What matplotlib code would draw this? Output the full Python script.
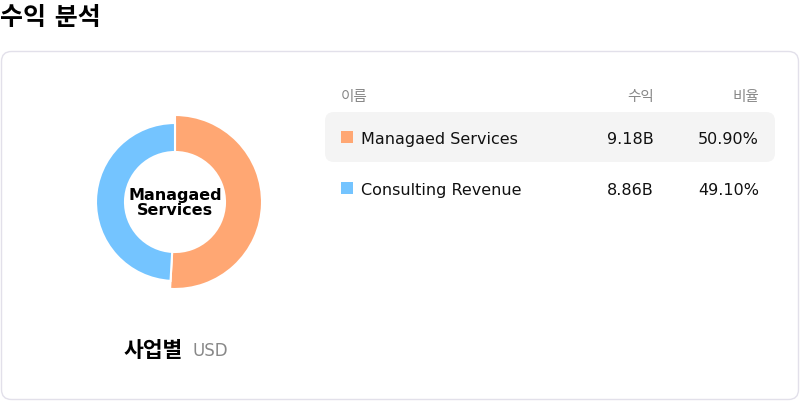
import matplotlib.pyplot as plt
from matplotlib.patches import FancyBboxPatch, Rectangle

plt.rcParams['font.family'] = ['DejaVu Sans', 'Noto Sans CJK KR']

# data
names = ['Managaed Services', 'Consulting Revenue']
revenue = [9.18, 8.86]
share = [50.90, 49.10]
colors = ['#FFA773', '#74C4FF']
title = '수익 분석'
header = ['이름', '수익', '비율']

fig = plt.figure(figsize=(8, 4.02), dpi=100)
ax = fig.add_axes([0, 0, 1, 1])
ax.set_xlim(0, 800)
ax.set_ylim(402, 0)
ax.axis('off')

# title and card
ax.text(0, 18, title, fontsize=18, fontweight='bold', va='center', ha='left')
card = FancyBboxPatch((1.5, 52.5), 797, 348, boxstyle='round,pad=0,rounding_size=10',
                      fc='white', ec='#e2e0ea', lw=1)
ax.add_patch(card)

# table
ax.text(341, 96.5, header[0], fontsize=10.5, color='#888888', va='center')
ax.text(654, 96.5, header[1], fontsize=10.5, color='#888888', va='center', ha='right')
ax.text(759, 96.5, header[2], fontsize=10.5, color='#888888', va='center', ha='right')

row_y = [138, 189]
hl = FancyBboxPatch((325, 113), 450, 50, boxstyle='round,pad=0,rounding_size=9',
                    fc='#f4f4f4', ec='none')
ax.add_patch(hl)
for i in range(len(names)):
    y = row_y[i]
    ax.add_patch(Rectangle((341, y - 6), 12, 12, fc=colors[i], ec='none'))
    ax.text(361, y + 1.5, names[i], fontsize=11.5, va='center', color='#111111')
    ax.text(654, y + 1.5, '%.2fB' % revenue[i], fontsize=11.5, va='center', ha='right', color='#111111')
    ax.text(759, y + 1.5, '%.2f%%' % share[i], fontsize=11.5, va='center', ha='right', color='#111111')

# bottom caption
ax.text(124, 351, '사업별', fontsize=15.5, fontweight='bold', va='center')
ax.text(192, 351.5, 'USD', fontsize=12, color='#888888', va='center')

# donut
cx, cy, size = 175, 203, 200
dax = fig.add_axes([(cx - size / 2) / 800, 1 - (cy + size / 2) / 402, size / 800, size / 402])
dax.set_xlim(-100, 100)
dax.set_ylim(-100, 100)
dax.set_aspect('equal')
dax.axis('off')
wedges, _ = dax.pie(share, colors=colors, startangle=90, counterclock=False, radius=79,
                    wedgeprops=dict(width=29, edgecolor='white', linewidth=1.5))
wedges[0].set_radius(87)
wedges[0].set_width(37)
dax.set_xlim(-100, 100)
dax.set_ylim(-100, 100)
dax.text(0, 0, 'Managaed\nServices', fontsize=11.5, fontweight='bold', ha='center', va='center',
         linespacing=1.0)

fig.savefig('out.png', dpi=100)
